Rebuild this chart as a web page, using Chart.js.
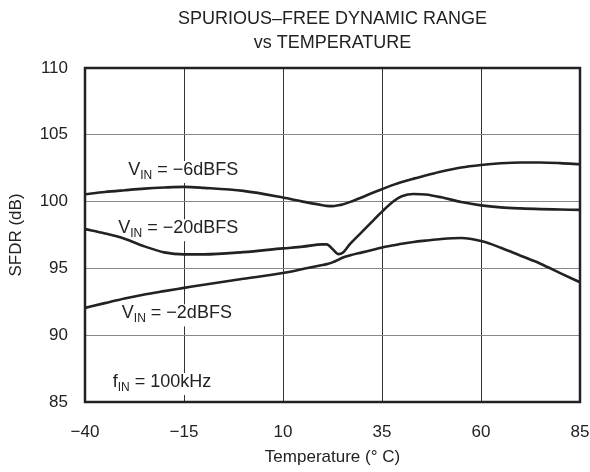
<!DOCTYPE html>
<html>
<head>
<meta charset="utf-8">
<script src="https://cdn.jsdelivr.net/npm/chart.js@4"></script>
<style>
html,body{margin:0;padding:0;background:#fff;}
#wrap{width:590px;height:472px;}
</style>
</head>
<body>
<div id="wrap"><canvas id="c" width="590" height="472"></canvas></div>
<script>
const temps = [-40,-35,-30,-25,-20,-15,-10,0,10,15,20,21,22.5,24,25,27,30,33,35,38,40,43,46,50,55,60,65,70,75,80,85];
const vin6 = [100.55,100.72,100.85,100.97,101.05,101.1,101.03,100.8,100.3,100.0,99.73,99.68,99.66,99.72,99.78,99.98,100.33,100.7,100.93,101.27,101.47,101.72,101.95,102.25,102.55,102.74,102.87,102.93,102.93,102.88,102.79];
const vin20 = [97.94,97.62,97.22,96.65,96.2,96.05,96.05,96.22,96.5,96.63,96.8,96.8,96.45,96.07,96.15,96.85,97.75,98.65,99.25,100.05,100.4,100.57,100.53,100.32,99.97,99.72,99.57,99.49,99.44,99.41,99.38];
const vin2 = [92.04,92.4,92.75,93.05,93.3,93.54,93.78,94.22,94.66,94.95,95.25,95.32,95.45,95.65,95.8,95.98,96.2,96.42,96.57,96.73,96.84,96.98,97.08,97.2,97.27,97.05,96.55,95.95,95.35,94.65,93.96];
const xTicks = [-40,-15,10,35,60,85];
const yTicks = [85,90,95,100,105,110];
const titleLines = ['SPURIOUS\u2013FREE DYNAMIC RANGE','vs TEMPERATURE'];
const xTitle = 'Temperature (\u00B0 C)';
const yTitle = 'SFDR (dB)';
// annotation labels: [main, subscript, rest, anchor temp, anchor dB]
const labels = [
  ['V','IN',' = \u22126dBFS', -29.1, 101.99],
  ['V','IN',' = \u221220dBFS', -31.6, 97.63],
  ['V','IN',' = \u22122dBFS', -30.7, 91.26],
  ['f','IN',' = 100kHz', -33.0, 86.12]
];

const FONT = '"Liberation Sans", Arial, sans-serif';
const LF = 18;
const mk = (d)=>d.map((v,i)=>({x:temps[i], y:v}));

function measureLabel(ctx, l){
  ctx.font = LF + 'px ' + FONT;
  const w1 = ctx.measureText(l[0]).width;
  ctx.font = '12px ' + FONT;
  const w2 = ctx.measureText(l[1]).width;
  ctx.font = LF + 'px ' + FONT;
  const w3 = ctx.measureText(l[2]).width;
  return [w1,w2,w3];
}

const textPlugin = {
  id:'texts',
  beforeDatasetsDraw(chart){
    const ctx = chart.ctx, xs = chart.scales.x, ys = chart.scales.y;
    ctx.save();
    ctx.fillStyle = '#fff';
    labels.forEach(l=>{
      const [w1,w2,w3] = measureLabel(ctx,l);
      const x = xs.getPixelForValue(l[3]), y = ys.getPixelForValue(l[4]);
      ctx.fillRect(x-2, y-14, w1+w2+w3+4, 22);
    });
    ctx.restore();
  },
  afterDatasetsDraw(chart){
    const ctx = chart.ctx, a = chart.chartArea, xs = chart.scales.x, ys = chart.scales.y;
    ctx.save();
    // frame
    ctx.strokeStyle = '#222';
    ctx.lineWidth = 2.5;
    ctx.strokeRect(a.left, a.top, a.right-a.left, a.bottom-a.top);
    ctx.fillStyle = '#222';
    // labels
    ctx.textBaseline = 'alphabetic';
    ctx.textAlign = 'left';
    labels.forEach(l=>{
      const [w1,w2,w3] = measureLabel(ctx,l);
      const x = xs.getPixelForValue(l[3]), y = ys.getPixelForValue(l[4]);
      ctx.font = LF + 'px ' + FONT;
      ctx.fillText(l[0], x, y);
      ctx.font = '12px ' + FONT;
      ctx.fillText(l[1], x + w1, y + 4);
      ctx.font = LF + 'px ' + FONT;
      ctx.fillText(l[2], x + w1 + w2, y);
    });
    // title
    ctx.textAlign = 'center';
    ctx.textBaseline = 'middle';
    ctx.font = '18px ' + FONT;
    const cx = (a.left + a.right)/2;
    ctx.fillText(titleLines[0], cx, 19);
    ctx.fillText(titleLines[1], cx, 43);
    // axis titles
    ctx.font = '17px ' + FONT;
    ctx.fillText(xTitle, cx, 457);
    ctx.translate(16, (a.top+a.bottom)/2);
    ctx.rotate(-Math.PI/2);
    ctx.fillText(yTitle, 0, 0);
    ctx.restore();
  }
};

const lineStyle = {borderColor:'#222', borderWidth:2.6, pointRadius:0, fill:false, cubicInterpolationMode:'monotone'};

new Chart(document.getElementById('c'), {
  type:'line',
  data:{
    datasets:[
      Object.assign({label:'-6dBFS', data:mk(vin6)}, lineStyle),
      Object.assign({label:'-20dBFS', data:mk(vin20)}, lineStyle),
      Object.assign({label:'-2dBFS', data:mk(vin2)}, lineStyle)
    ]
  },
  options:{
    responsive:false,
    animation:false,
    devicePixelRatio:1,
    layout:{padding:{top:68,right:10,left:0,bottom:0}},
    plugins:{legend:{display:false}, tooltip:{enabled:false}, title:{display:false}},
    scales:{
      x:{
        type:'linear', min:-40, max:85,
        afterBuildTicks(s){ s.ticks = xTicks.map(v=>({value:v})); },
        afterFit(s){ s.height = 70; s.paddingLeft = 0; s.paddingRight = 0; },
        grid:{color:'#333', lineWidth:1, drawTicks:false},
        border:{display:false},
        ticks:{color:'#222', padding:20, font:{size:17, family:FONT}, maxRotation:0,
          callback:(v)=> (v<0 ? '\u2212' + Math.abs(v) : String(v))}
      },
      y:{
        type:'linear', min:85, max:110,
        afterBuildTicks(s){ s.ticks = yTicks.map(v=>({value:v})); },
        afterFit(s){ s.width = 85; s.paddingTop = 0; s.paddingBottom = 0; },
        grid:{color:'#888', lineWidth:1, drawTicks:false},
        border:{display:false},
        ticks:{color:'#222', padding:17, font:{size:17, family:FONT}}
      }
    }
  },
  plugins:[textPlugin]
});
</script>
</body>
</html>
